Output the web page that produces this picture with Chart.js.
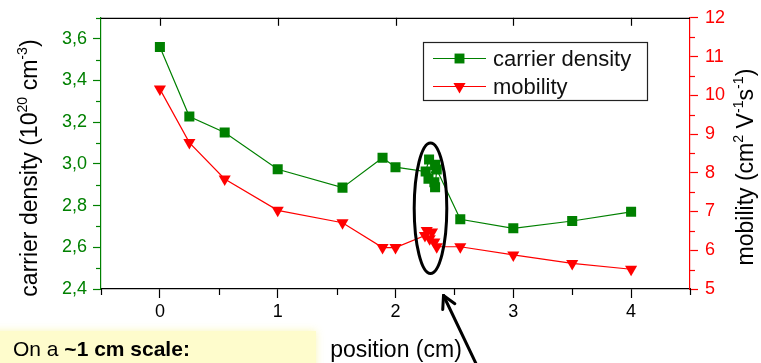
<!DOCTYPE html>
<html><head><meta charset="utf-8">
<script src="https://cdn.jsdelivr.net/npm/chart.js@4.4.1/dist/chart.umd.min.js"></script>
<style>html,body{margin:0;padding:0;background:#fff;}#wrap{position:relative;width:761px;height:363px;}canvas{display:block;}</style>
</head><body><div id="wrap"><canvas id="c" width="761" height="363"></canvas></div>
<script>
// ---- data ----
const densityPositions = [0, 0.25, 0.55, 1.0, 1.55, 1.89, 2.0, 2.256, 2.285, 2.336, 2.28, 2.33, 2.336, 2.35, 2.55, 3.0, 3.5, 4.0];
const carrierDensity   = [3.56, 3.227, 3.15, 2.974, 2.886, 3.029, 2.984, 2.963, 3.021, 2.995, 2.928, 2.912, 2.888, 2.973, 2.734, 2.691, 2.726, 2.77];
const mobilityPositions = [0, 0.25, 0.55, 1.0, 1.55, 1.89, 2.0, 2.25, 2.265, 2.31, 2.29, 2.33, 2.35, 2.55, 3.0, 3.5, 4.0];
const mobility          = [10.16, 8.78, 7.84, 7.03, 6.71, 6.07, 6.07, 6.38, 6.51, 6.47, 6.30, 6.21, 6.09, 6.09, 5.88, 5.66, 5.51];
const positionTicks = [0, 1, 2, 3, 4];
const densityTicks  = [2.4, 2.6, 2.8, 3.0, 3.2, 3.4, 3.6];
const mobilityTicks = [5, 6, 7, 8, 9, 10, 11, 12];
const seriesNames = ['carrier density', 'mobility'];
const xTitle = 'position (cm)';
const densityTitle = [{t:'carrier density (10'},{t:'20',sup:true},{t:' cm'},{t:'-3',sup:true},{t:')'}];
const mobilityTitle = [{t:'mobility (cm'},{t:'2',sup:true},{t:' V'},{t:'-1',sup:true},{t:'s'},{t:'-1',sup:true},{t:')'}];
const noteNormal = 'On a ';
const noteBold = '~1 cm scale:';

// ---- styling ----
const FAM = '"Liberation Sans", Arial, Helvetica, sans-serif';
const GREEN = '#008000', RED = '#ff0000';
const fnt = (s, b) => (b ? 'bold ' : '') + s + 'px ' + FAM;
const mids = arr => arr.slice(0, -1).map((v, i) => (v + arr[i + 1]) / 2);

function richWidth(ctx, parts, size) {
  let w = 0;
  parts.forEach(p => { ctx.font = fnt(p.sup ? size * 0.62 : size); w += ctx.measureText(p.t).width; });
  return w;
}
function drawRich(ctx, parts, x, y, size) {
  let cx = x - richWidth(ctx, parts, size) / 2;
  ctx.textAlign = 'left'; ctx.textBaseline = 'alphabetic';
  parts.forEach(p => {
    const s = p.sup ? size * 0.62 : size;
    ctx.font = fnt(s);
    ctx.fillText(p.t, cx, p.sup ? y - size * 0.42 : y);
    cx += ctx.measureText(p.t).width;
  });
}

const decor = {
  id: 'decor',
  afterDraw(chart) {
    const { ctx, chartArea: ca, scales } = chart;
    const sx = scales.x, sy = scales.y, sy1 = scales.y1;
    const seg = (x1, y1, x2, y2) => { ctx.beginPath(); ctx.moveTo(x1, y1); ctx.lineTo(x2, y2); ctx.stroke(); };
    ctx.save();
    ctx.lineWidth = 1.2;
    // top frame line + inward ticks
    ctx.strokeStyle = '#000';
    seg(ca.left, ca.top + 0.5, ca.right, ca.top + 0.5);
    positionTicks.forEach(v => { const p = Math.round(sx.getPixelForValue(v)) + 0.5; seg(p, ca.top, p, ca.top + 8); });
    // minor ticks bottom
    const xm = [-0.5].concat(mids(positionTicks), [4.5]);
    xm.forEach(v => { const p = Math.round(sx.getPixelForValue(v)) + 0.5; seg(p, ca.bottom, p, ca.bottom + 6); });
    // minor ticks left
    ctx.strokeStyle = GREEN;
    mids(densityTicks).concat([3.7]).forEach(v => { const p = Math.round(sy.getPixelForValue(v)) + 0.5; seg(ca.left - 5, p, ca.left, p); });
    // minor ticks right
    ctx.strokeStyle = RED;
    mids(mobilityTicks).forEach(v => { const p = Math.round(sy1.getPixelForValue(v)) + 0.5; seg(ca.right, p, ca.right + 5, p); });

    // axis titles
    ctx.fillStyle = '#000';
    ctx.save(); ctx.translate(37, 168); ctx.rotate(-Math.PI / 2); drawRich(ctx, densityTitle, 0, 0, 23); ctx.restore();
    ctx.save(); ctx.translate(753, 167); ctx.rotate(-Math.PI / 2); drawRich(ctx, mobilityTitle, 0, 0, 23); ctx.restore();
    drawRich(ctx, [{t: xTitle}], 396, 357, 23);

    // legend
    ctx.strokeStyle = '#222'; ctx.lineWidth = 1.2;
    ctx.strokeRect(423.5, 42.5, 224, 58);
    const ds = chart.data.datasets;
    [58.5, 86.5].forEach((yy, i) => {
      const d = ds[i];
      ctx.strokeStyle = d.borderColor; ctx.lineWidth = 1.2;
      seg(433, yy, 486, yy);
      ctx.fillStyle = d.backgroundColor;
      Chart.helpers.drawPoint(ctx, { pointStyle: d.pointStyle, rotation: d.rotation || 0, radius: 7, borderWidth: 0 }, 459.5, yy);
      ctx.fillStyle = '#111'; ctx.font = fnt(22); ctx.textAlign = 'left'; ctx.textBaseline = 'middle';
      ctx.fillText(seriesNames[i], 493, yy + 1);
    });

    // ellipse around cluster + arrow
    ctx.strokeStyle = '#000'; ctx.lineWidth = 3;
    ctx.beginPath(); ctx.ellipse(430.5, 208.3, 16.3, 65.3, 0, 0, Math.PI * 2); ctx.stroke();
    const tip = [443.5, 295.5], tail = [480, 372];
    ctx.lineCap = 'round';
    seg(tail[0], tail[1], tip[0], tip[1]);
    const ang = Math.atan2(tip[1] - tail[1], tip[0] - tail[0]);
    [0.5, -0.5].forEach(a => seg(tip[0], tip[1], tip[0] - 14 * Math.cos(ang + a), tip[1] - 14 * Math.sin(ang + a)));

    // note box
    ctx.save();
    ctx.fillStyle = '#fefccc'; ctx.shadowColor = 'rgba(250,246,180,0.9)'; ctx.shadowBlur = 8;
    ctx.fillRect(-10, 331, 326, 45);
    ctx.restore();
    ctx.fillStyle = '#000'; ctx.textAlign = 'left'; ctx.textBaseline = 'alphabetic';
    ctx.font = fnt(21); ctx.fillText(noteNormal, 13, 356);
    const w = ctx.measureText(noteNormal).width;
    ctx.font = fnt(21, true); ctx.fillText(noteBold, 13 + w, 356);
    ctx.restore();
  }
};

new Chart(document.getElementById('c'), {
  type: 'scatter',
  data: {
    datasets: [
      { label: seriesNames[0], data: densityPositions.map((x, i) => ({ x, y: carrierDensity[i] })), yAxisID: 'y',
        showLine: true, borderColor: GREEN, backgroundColor: GREEN, borderWidth: 1.2,
        pointStyle: 'rect', pointRadius: 7.1, pointBorderWidth: 0, pointHoverRadius: 7.1 },
      { label: seriesNames[1], data: mobilityPositions.map((x, i) => ({ x, y: mobility[i] })), yAxisID: 'y1',
        showLine: true, borderColor: RED, backgroundColor: RED, borderWidth: 1.2,
        pointStyle: 'triangle', rotation: 180, pointRadius: 7, pointBorderWidth: 0, pointHoverRadius: 7 }
    ]
  },
  options: {
    responsive: false, animation: false,
    layout: { padding: { top: 16, left: 0, right: 0, bottom: 0 } },
    plugins: { legend: { display: false }, tooltip: { enabled: false } },
    scales: {
      x: {
        type: 'linear', position: 'bottom', min: -0.5, max: 4.5,
        afterBuildTicks: s => { s.ticks = positionTicks.map(v => ({ value: v })); },
        afterFit: s => { s.height = 74; },
        ticks: { color: '#000', font: { family: FAM, size: 18 }, padding: 3, maxRotation: 0, autoSkip: false },
        grid: { drawOnChartArea: false, drawTicks: true, tickLength: 9, color: '#000', tickWidth: 1.2 },
        border: { color: '#000', width: 1.2 }
      },
      y: {
        position: 'left', min: 2.4, max: 3.7,
        afterBuildTicks: s => { s.ticks = densityTicks.map(v => ({ value: v })); },
        afterFit: s => { s.width = 101; },
        ticks: { color: GREEN, font: { family: FAM, size: 18 }, padding: 6, callback: v => v.toFixed(1).replace('.', ',') },
        grid: { drawOnChartArea: false, drawTicks: true, tickLength: 8, color: GREEN, tickWidth: 1.2 },
        border: { color: GREEN, width: 1.2 }
      },
      y1: {
        position: 'right', min: 5, max: 12,
        afterBuildTicks: s => { s.ticks = mobilityTicks.map(v => ({ value: v })); },
        afterFit: s => { s.width = 71; },
        ticks: { color: RED, font: { family: FAM, size: 18 }, padding: 7 },
        grid: { drawOnChartArea: false, drawTicks: true, tickLength: 8, color: RED, tickWidth: 1.2 },
        border: { color: RED, width: 1.2 }
      }
    }
  },
  plugins: [decor]
});
</script>
</body></html>
